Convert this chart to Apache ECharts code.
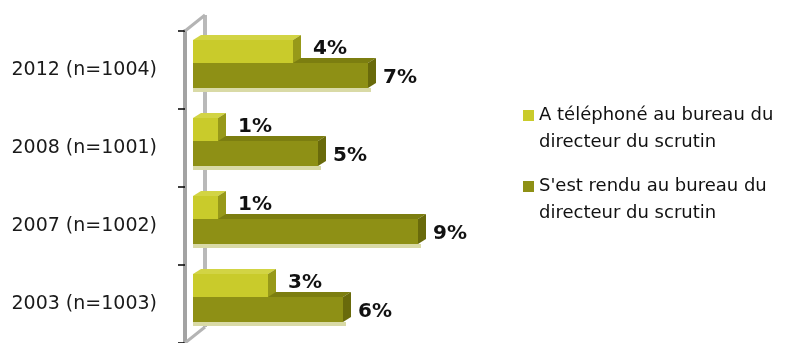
<!DOCTYPE html>
<html>
<head>
<meta charset="utf-8">
<script src="https://cdn.jsdelivr.net/npm/echarts@6/dist/echarts.min.js"></script>
<style>
  html, body { margin: 0; padding: 0; background: #ffffff; }
  #chart { width: 801px; height: 343px; }
</style>
</head>
<body>
<div id="chart"></div>
<script>
// Survey years (top to bottom) and the share of respondents for each action, in %
const categories = ['2012 (n=1004)', '2008 (n=1001)', '2007 (n=1002)', '2003 (n=1003)'];
const phoned = [4, 1, 1, 3];
const visited = [7, 5, 9, 6];
const seriesNames = [
  'A téléphoné au bureau du directeur du scrutin',
  "S'est rendu au bureau du directeur du scrutin"
];
const legendLines = [
  ['A téléphoné au bureau du', 'directeur du scrutin'],
  ["S'est rendu au bureau du", 'directeur du scrutin']
];

const FONT = '"DejaVu Sans", sans-serif';
const AXIS_OFFSET = 8;          // category axis sits a little left of the bars
const DEPTH_X = 8, DEPTH_Y = -5; // extrusion of each 3D bar
const WALL_X = 20, WALL_Y = -16; // depth of the side wall

const palette = {
  light: { front: '#C9CB2B', top: '#D2D444', side: '#979919' },
  dark:  { front: '#8E9015', top: '#7C7E10', side: '#696A0B', floor: '#D9DAA6' }
};

// vertical extent of each bar's front face, as fractions of the category band
const bandSlots = { light: [-0.385, -0.09], dark: [-0.09, 0.231] };

function bar3d(kind, labelGap, labelShift) {
  return function (params, api) {
    const val = api.value(0);
    const cat = api.value(1);
    const origin = api.coord([0, cat]);
    const end = api.coord([val, cat]);
    const band = api.size([0, 1])[1];
    const slot = bandSlots[kind];
    const y0 = origin[1] + slot[0] * band;
    const y1 = origin[1] + slot[1] * band;
    const x0 = origin[0];
    const x1 = end[0];
    const c = palette[kind];
    const children = [];
    if (c.floor) {
      children.push({
        type: 'rect',
        shape: { x: x0, y: y1, width: x1 - x0 + 3, height: 4 },
        style: { fill: c.floor }
      });
    }
    children.push(
      {
        type: 'polygon',
        shape: { points: [[x0, y0], [x1, y0], [x1 + DEPTH_X, y0 + DEPTH_Y], [x0 + DEPTH_X, y0 + DEPTH_Y]] },
        style: { fill: c.top }
      },
      {
        type: 'polygon',
        shape: { points: [[x1, y0], [x1 + DEPTH_X, y0 + DEPTH_Y], [x1 + DEPTH_X, y1 + DEPTH_Y], [x1, y1]] },
        style: { fill: c.side }
      },
      {
        type: 'rect',
        shape: { x: x0, y: y0, width: x1 - x0, height: y1 - y0 },
        style: { fill: c.front }
      },
      {
        type: 'text',
        style: {
          x: x1 + labelGap,
          y: (y0 + y1) / 2 + labelShift,
          text: val + '%',
          fontFamily: FONT,
          fontSize: 20,
          fontWeight: 'bold',
          fill: '#111111',
          align: 'left',
          verticalAlign: 'middle'
        }
      }
    );
    return { type: 'group', children: children };
  };
}

// grey edges of the 3D side wall around the category axis
function wallEdges(params) {
  const cs = params.coordSys;
  const fx = cs.x - AXIS_OFFSET;
  const top = cs.y;
  const bottom = cs.y + cs.height;
  const bx = fx + WALL_X;
  return {
    type: 'group',
    children: [
      { type: 'line', shape: { x1: bx, y1: top + WALL_Y, x2: bx, y2: bottom + WALL_Y }, style: { stroke: '#b9b9b9', lineWidth: 4 } },
      { type: 'line', shape: { x1: fx, y1: top, x2: bx, y2: top + WALL_Y }, style: { stroke: '#b4b4b4', lineWidth: 3 } },
      { type: 'line', shape: { x1: fx, y1: bottom, x2: bx, y2: bottom + WALL_Y }, style: { stroke: '#b4b4b4', lineWidth: 3 } }
    ]
  };
}

const legendBase = {
  orient: 'vertical',
  left: 523,
  padding: 0,
  icon: 'rect',
  itemWidth: 11,
  itemHeight: 11,
  selectedMode: false,
  textStyle: { fontFamily: FONT, fontSize: 18, lineHeight: 27, color: '#111111' }
};

const chart = echarts.init(document.getElementById('chart'), null, { renderer: 'canvas' });
chart.setOption({
  animation: false,
  backgroundColor: '#ffffff',
  grid: { left: 193, top: 31, width: 250, height: 312 },
  xAxis: { type: 'value', min: 0, max: 10, show: false, splitLine: { show: false } },
  yAxis: {
    type: 'category',
    data: categories,
    inverse: true,
    offset: AXIS_OFFSET,
    axisLine: { show: true, onZero: false, lineStyle: { color: '#a3a3a3', width: 4 } },
    axisTick: { show: true, inside: false, alignWithLabel: false, length: 7, lineStyle: { color: '#000000', width: 1.5 } },
    axisLabel: { margin: 28, fontFamily: FONT, fontSize: 19, color: '#1a1a1a' },
    splitLine: { show: false }
  },
  legend: [
    Object.assign({}, legendBase, {
      data: [seriesNames[0]], top: 75,
      formatter: function () { return '\n' + legendLines[0].join('\n'); }
    }),
    Object.assign({}, legendBase, {
      data: [seriesNames[1]], top: 146,
      formatter: function () { return '\n' + legendLines[1].join('\n'); }
    })
  ],
  series: [
    {
      name: 'wall',
      type: 'custom',
      silent: true,
      clip: false,
      z: 1,
      renderItem: wallEdges,
      data: [[0, categories[0]]]
    },
    {
      name: seriesNames[1],
      type: 'custom',
      clip: false,
      itemStyle: { color: palette.dark.front },
      renderItem: bar3d('dark', 15, 2),
      encode: { x: 0, y: 1 },
      data: visited.map(function (v, i) { return [v, categories[i]]; })
    },
    {
      name: seriesNames[0],
      type: 'custom',
      clip: false,
      itemStyle: { color: palette.light.front },
      renderItem: bar3d('light', 20, -3),
      encode: { x: 0, y: 1 },
      data: phoned.map(function (v, i) { return [v, categories[i]]; })
    }
  ]
});
</script>
</body>
</html>
